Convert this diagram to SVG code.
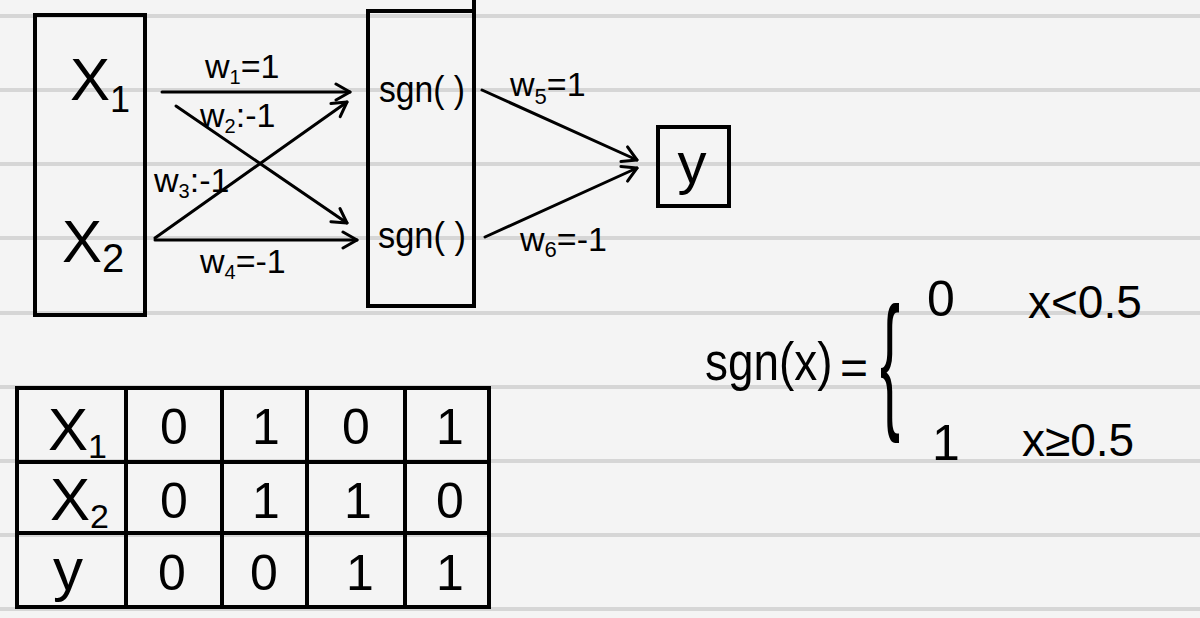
<svg xmlns="http://www.w3.org/2000/svg" width="1200" height="618" viewBox="0 0 1200 618">
<style>
  .rule{stroke:#d6d6d6;stroke-width:4}
  .box{fill:none;stroke:#000;stroke-width:4}
  .edge{fill:none;stroke:#000;stroke-width:3;stroke-linecap:round}
  .t{font-family:"Liberation Sans","DejaVu Sans",sans-serif;fill:#000}
  .big{font-size:60px}
  .lbl{font-size:34px}
  .mid{text-anchor:middle}
</style>
<defs>
  <marker id="arr" markerUnits="userSpaceOnUse" markerWidth="24" markerHeight="24" refX="18" refY="10" orient="auto">
    <path d="M4,2 L18,10 L4,18" fill="none" stroke="#000" stroke-width="3" stroke-linecap="round" stroke-linejoin="round"/>
  </marker>
</defs>
<rect width="1200" height="618" fill="#f4f4f4"/>
<g id="paper-lines">
  <line class="rule" x1="0" y1="16" x2="1200" y2="16"/>
  <line class="rule" x1="0" y1="90" x2="1200" y2="90"/>
  <line class="rule" x1="0" y1="164" x2="1200" y2="164"/>
  <line class="rule" x1="0" y1="238" x2="1200" y2="238"/>
  <line class="rule" x1="0" y1="313" x2="1200" y2="313"/>
  <line class="rule" x1="0" y1="387" x2="1200" y2="387"/>
  <line class="rule" x1="0" y1="461" x2="1200" y2="461"/>
  <line class="rule" x1="0" y1="535" x2="1200" y2="535"/>
  <line class="rule" x1="0" y1="609" x2="1200" y2="609"/>
</g>

<g id="input-layer">
  <rect class="box" x="35" y="15" width="110" height="300"/>
  <text class="t big" x="70" y="100">X<tspan font-size="36" dy="12">1</tspan></text>
  <text class="t big" x="62" y="262">X<tspan font-size="40" dy="10">2</tspan></text>
</g>

<g id="hidden-layer">
  <rect class="box" x="368" y="11" width="106" height="295"/>
  <line class="box" x1="474" y1="0" x2="474" y2="308"/>
  <text class="t" font-size="37" x="379" y="102" textLength="86" lengthAdjust="spacingAndGlyphs">sgn( )</text>
  <text class="t" font-size="37" x="378" y="248" textLength="88" lengthAdjust="spacingAndGlyphs">sgn( )</text>
</g>

<g id="output-node">
  <rect class="box" x="658" y="127" width="71" height="79"/>
  <text class="t mid" font-size="58" x="692" y="183">y</text>
</g>

<g id="connectors">
  <line class="edge" x1="162" y1="92" x2="350" y2="92" marker-end="url(#arr)"/>
  <line class="edge" x1="176" y1="106" x2="347" y2="223" marker-end="url(#arr)"/>
  <line class="edge" x1="155" y1="238" x2="347" y2="102" marker-end="url(#arr)"/>
  <line class="edge" x1="155" y1="240" x2="357" y2="240" marker-end="url(#arr)"/>
  <line class="edge" x1="482" y1="90" x2="637" y2="160" marker-end="url(#arr)"/>
  <line class="edge" x1="485" y1="237" x2="637" y2="168" marker-end="url(#arr)"/>
</g>

<g id="weight-labels">
  <text class="t lbl" x="205" y="78">w<tspan font-size="20" dy="6">1</tspan><tspan dy="-6">=1</tspan></text>
  <text class="t lbl" x="200" y="127">w<tspan font-size="20" dy="6">2</tspan><tspan dy="-6">:-1</tspan></text>
  <text class="t lbl" x="154" y="192">w<tspan font-size="20" dy="6">3</tspan><tspan dy="-6">:-1</tspan></text>
  <text class="t lbl" x="200" y="273">w<tspan font-size="20" dy="6">4</tspan><tspan dy="-6">=-1</tspan></text>
  <text class="t lbl" x="510" y="96">w<tspan font-size="22" dy="8">5</tspan><tspan dy="-8">=1</tspan></text>
  <text class="t lbl" x="520" y="251">w<tspan font-size="22" dy="6">6</tspan><tspan dy="-6">=-1</tspan></text>
</g>

<g id="formula">
  <g transform="translate(705,380) scale(0.85,1)"><text class="t" font-size="54" x="0" y="0">sgn(x)</text></g>
  <text class="t" font-size="48" x="840" y="384">=</text>
  <g transform="translate(880,412) scale(1,2.5)"><text class="t" font-size="60" x="0" y="0">{</text></g>
  <text class="t" font-size="50" x="927" y="316">0</text>
  <text class="t" font-size="46" x="1028" y="318">x&lt;0.5</text>
  <text class="t" font-size="50" x="932" y="460">1</text>
  <text class="t" font-size="46" x="1022" y="456">x≥0.5</text>
</g>

<g id="truth-table">
  <rect class="box" x="17" y="388" width="472" height="219"/>
  <line class="box" x1="126" y1="388" x2="126" y2="607"/>
  <line class="box" x1="222" y1="388" x2="222" y2="607"/>
  <line class="box" x1="307" y1="388" x2="307" y2="607"/>
  <line class="box" x1="405" y1="388" x2="405" y2="607"/>
  <line class="box" x1="17" y1="462" x2="489" y2="462"/>
  <line class="box" x1="17" y1="533" x2="489" y2="533"/>
  <text class="t big" x="48" y="450">X<tspan font-size="34" dy="8">1</tspan></text>
  <text class="t big" x="50" y="520">X<tspan font-size="34" dy="8">2</tspan></text>
  <text class="t big mid" x="68" y="590">y</text>
  <g class="t mid" font-size="50">
    <text x="174" y="444">0</text><text x="266" y="444">1</text><text x="356" y="444">0</text><text x="450" y="444">1</text>
    <text x="174" y="518">0</text><text x="266" y="518">1</text><text x="358" y="518">1</text><text x="450" y="518">0</text>
    <text x="172" y="590">0</text><text x="264" y="590">0</text><text x="360" y="590">1</text><text x="450" y="590">1</text>
  </g>
</g>
</svg>
